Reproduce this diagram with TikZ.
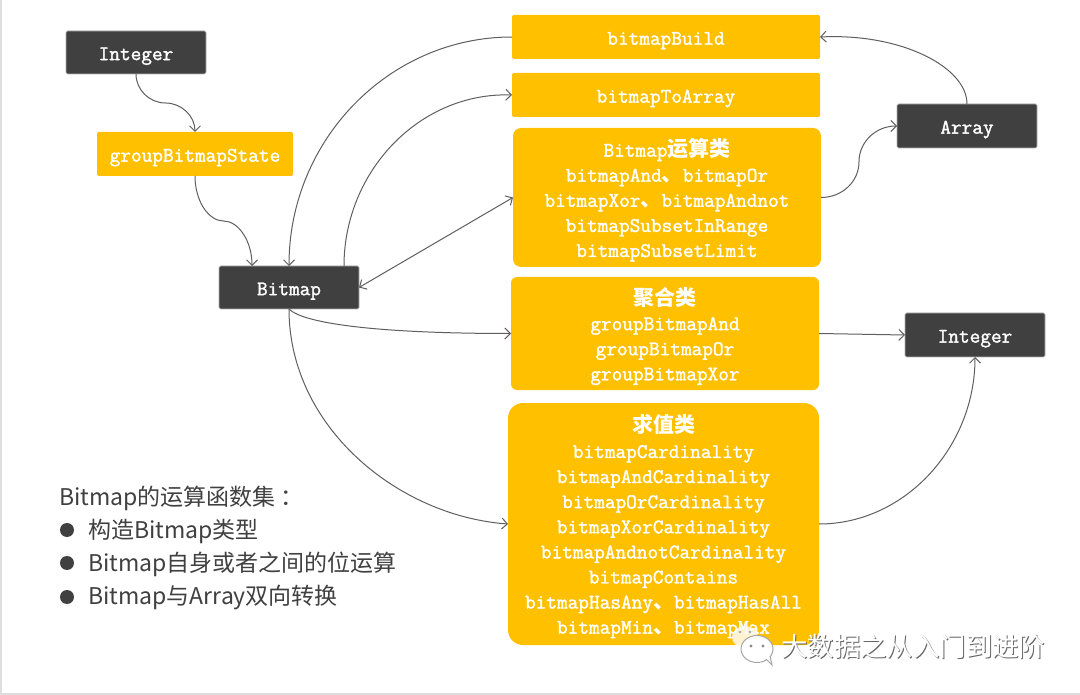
\documentclass[tikz,border=0pt]{standalone}
\usepackage{fontspec}
\setmonofont[AutoFakeBold=1.6]{Latin Modern Mono}
\setmainfont{Noto Sans CJK SC}
\newfontfamily\cjk{Noto Sans CJK SC}
\usetikzlibrary{arrows.meta,calc}
\definecolor{amber}{HTML}{FFC000}
\definecolor{slate}{HTML}{404040}
\definecolor{wire}{HTML}{5F5F5F}
\newcommand{\cn}[1]{{\cjk\bfseries\fontsize{21}{25.1}\selectfont #1}}
\tikzset{
  box/.style={anchor=north west,inner sep=0pt,outer sep=0pt,align=center,text=white,
    font=\fontsize{20.7}{25.1}\selectfont\ttfamily\bfseries,
    execute at begin node={\rule{0pt}{20pt}}},
  boxtext/.style={anchor=center,inner sep=0pt,align=center,text=white,
    font=\fontsize{20.7}{25.1}\selectfont\ttfamily\bfseries},
  darkbox/.style={box,fill=slate,draw=black!30,line width=0.6pt,rounded corners=1.5pt},
  ambox/.style={box,fill=amber,rounded corners=1.5pt},
  wirearrow/.style={draw=wire,line width=1pt,-{Straight Barb[length=5.5pt,width=11pt,line width=1pt]}},
  bothways/.style={draw=wire,line width=1pt,{Straight Barb[length=5.5pt,width=11pt,line width=1pt]}-{Straight Barb[length=5.5pt,width=11pt,line width=1pt]}},
  listtext/.style={anchor=west,inner sep=0pt,text=slate,font=\fontsize{23}{28}\selectfont},
  dot/.style={circle,fill=slate,minimum size=14pt,inner sep=0pt},
  wm/.style={anchor=west,inner sep=0pt,font=\fontsize{26.4}{30}\selectfont}
}
\begin{document}
\begin{tikzpicture}[x=1pt,y=-1pt]
\useasboundingbox (0,0) rectangle (1080,695);
\fill[white] (0,0) rectangle (1080,695);
\fill[black!13] (0,0) rectangle (2,695);
\fill[black!13] (0,692.5) rectangle (1080,695);

\node[darkbox,minimum width=140pt,minimum height=43pt] (int1) at (66,31) {Integer};
\node[ambox,minimum width=196pt,minimum height=44pt] (state) at (97,132) {groupBitmapState};
\node[darkbox,minimum width=140pt,minimum height=43pt] (bitmap) at (219,266) {Bitmap};
\node[ambox,minimum width=308pt,minimum height=44pt] (build) at (512,15) {bitmapBuild};
\node[ambox,minimum width=308pt,minimum height=44pt] (toarr) at (512,73) {bitmapToArray};
\node[ambox,rounded corners=8pt,minimum width=308pt,minimum height=139pt] (calcbox) at (513,128) {};
\node[boxtext] (calctext) at ($(calcbox.center)+(0,2.5)$)
  {Bitmap\cn{运算类}\\bitmapAnd\cn{、}bitmapOr\\bitmapXor\cn{、}bitmapAndnot\\bitmapSubsetInRange\\bitmapSubsetLimit};
\node[ambox,rounded corners=6pt,minimum width=308pt,minimum height=113pt] (agg) at (511,277) {};
\node[boxtext] (aggtext) at ($(agg.center)+(0,2.5)$)
  {\cn{聚合类}\\groupBitmapAnd\\groupBitmapOr\\groupBitmapXor};
\node[ambox,rounded corners=15pt,minimum width=311pt,minimum height=242pt] (val) at (508,403) {};
\node[boxtext] (valtext) at ($(val.center)+(0,2.5)$)
  {\cn{求值类}\\bitmapCardinality\\bitmapAndCardinality\\bitmapOrCardinality\\bitmapXorCardinality\\bitmapAndnotCardinality\\bitmapContains\\bitmapHasAny\cn{、}bitmapHasAll\\bitmapMin\cn{、}bitmapMax};
\node[darkbox,minimum width=140pt,minimum height=44pt] (array) at (897,104) {Array};
\node[darkbox,minimum width=140pt,minimum height=44pt] (int2) at (905,313) {Integer};

\draw[wirearrow] (int1.south) .. controls +(0,16) and +(-16,0) .. ($(int1.south)!0.5!(state.north)$) .. controls +(16,0) and +(0,-16) .. (state.north);
\draw[wirearrow] (state.south) .. controls +(0,25) and +(-15,0) .. ($(state.south)!0.5!($(bitmap.north west)+(33,0)$)$) .. controls +(15,0) and +(0,-25) .. ($(bitmap.north west)+(33,0)$);
\draw[wirearrow] (build.west) .. controls +(-123,0) and +(0,-126) .. (bitmap.north);
\draw[wirearrow] ($(bitmap.north east)+(-15,0)$) .. controls +(0,-95) and +(-92,-3) .. (toarr.west);
\draw[bothways] (bitmap.east) -- (calcbox.west);
\draw[wirearrow] (calcbox.east) .. controls +(21,0) and +(0,20) .. ($(calcbox.east)!0.5!(array.west)$) .. controls +(0,-20) and +(-21,0) .. (array.west);
\draw[wirearrow] (array.north) .. controls +(0,-37) and +(81,-4) .. (build.east);
\draw[wirearrow] (bitmap.south) .. controls +(15,15) and +(-130,0) .. (agg.west);
\draw[wirearrow] (bitmap.south) .. controls +(0,118) and +(-110,-8) .. (val.west);
\draw[wirearrow] (agg.east) -- (int2.west);
\draw[wirearrow] (val.east) .. controls +(86,0) and +(0,90) .. (int2.south);

\node[listtext] (t0) at (59,498) {Bitmap的运算函数集\hspace{5pt}：};
\node[dot] (d1) at (67,530) {};
\node[listtext] (t1) at (88,531) {构造Bitmap类型};
\node[dot] (d2) at (67,563) {};
\node[listtext] (t2) at (88,564) {Bitmap自身或者之间的位运算};
\node[dot] (d3) at (67,597) {};
\node[listtext] (t3) at (88,598) {Bitmap与Array双向转换};

% watermark
\fill[white,opacity=0.82] (745,637) ellipse (13pt and 11pt);
\fill[white,opacity=0.82] (738,645) -- (733,654) -- (746,648) -- cycle;
\draw[black!35,fill=white,line width=1pt] (757,649) ellipse (16pt and 13.5pt);
\draw[black!35,fill=white,line width=1pt] (766,659) -- (772,665) -- (770,656);
\fill[black!45] (751,646) circle (1.6pt) (763,646) circle (1.6pt);
\fill[black!30] (740,632) circle (1.6pt) (750,632) circle (1.6pt);
\node[wm,text=black!60] (wmshadow) at (782,647) {大数据之从入门到进阶};
\node[wm,text=white] (wmtext) at (781,646) {大数据之从入门到进阶};
\end{tikzpicture}
\end{document}
